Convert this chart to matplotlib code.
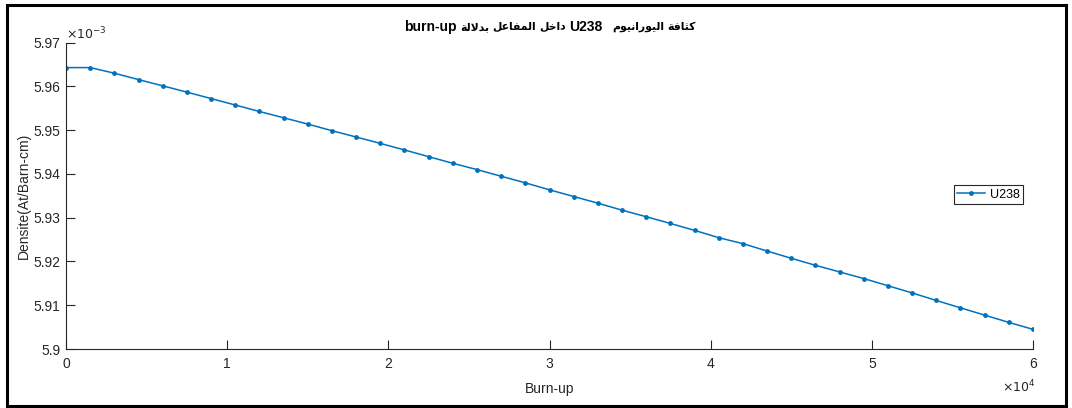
import matplotlib
matplotlib.use("Agg")
import matplotlib.pyplot as plt
from matplotlib.patches import Rectangle
from matplotlib.ticker import FixedLocator

# ---------------- data ----------------
burnup = [i * 1500 for i in range(41)]  # marker spacing read as 1500
density_e3 = [
    5.96431, 5.96431, 5.96303, 5.96157, 5.96014, 5.95870, 5.95724, 5.95576,
    5.95428, 5.95285, 5.95141, 5.94989, 5.94845, 5.94699, 5.94549, 5.94396,
    5.94244, 5.94100, 5.93948, 5.93797, 5.93638, 5.93485, 5.93333, 5.93173,
    5.93023, 5.92870, 5.92711, 5.92544, 5.92408, 5.92239, 5.92073, 5.91913,
    5.91761, 5.91610, 5.91446, 5.91282, 5.91109, 5.90941, 5.90774, 5.90608,
    5.90449,
]
density = [d * 1e-3 for d in density_e3]
x_ticks = [0, 10000, 20000, 30000, 40000, 50000, 60000]
x_tick_labels = ["0", "1", "2", "3", "4", "5", "6"]
y_ticks = [5.90e-3, 5.91e-3, 5.92e-3, 5.93e-3, 5.94e-3, 5.95e-3, 5.96e-3, 5.97e-3]
y_tick_labels = ["5.9", "5.91", "5.92", "5.93", "5.94", "5.95", "5.96", "5.97"]
series_name = "U238"
title_logical = "كثافة اليورانيوم  U238 داخل المفاعل بدلالة burn-up"
x_label = "Burn-up"
y_label = "Densite(At/Barn-cm)"

# ---------------- minimal Arabic shaping (matplotlib has no shaper) ----------------
FORMS = {  # isolated, final, initial, medial
    "ا": ("\uFE8D", "\uFE8E", None, None),
    "ب": ("\uFE8F", "\uFE90", "\uFE91", "\uFE92"),
    "ة": ("\uFE93", "\uFE94", None, None),
    "ث": ("\uFE99", "\uFE9A", "\uFE9B", "\uFE9C"),
    "خ": ("\uFEA5", "\uFEA6", "\uFEA7", "\uFEA8"),
    "د": ("\uFEA9", "\uFEAA", None, None),
    "ر": ("\uFEAD", "\uFEAE", None, None),
    "ع": ("\uFEC9", "\uFECA", "\uFECB", "\uFECC"),
    "ف": ("\uFED1", "\uFED2", "\uFED3", "\uFED4"),
    "ك": ("\uFED9", "\uFEDA", "\uFEDB", "\uFEDC"),
    "ل": ("\uFEDD", "\uFEDE", "\uFEDF", "\uFEE0"),
    "م": ("\uFEE1", "\uFEE2", "\uFEE3", "\uFEE4"),
    "ن": ("\uFEE5", "\uFEE6", "\uFEE7", "\uFEE8"),
    "و": ("\uFEED", "\uFEEE", None, None),
    "ي": ("\uFEF1", "\uFEF2", "\uFEF3", "\uFEF4"),
}
LAMALEF = ("\uFEFB", "\uFEFC")


def shape_word(w):
    units = []
    i = 0
    while i < len(w):
        if w[i] == "ل" and i + 1 < len(w) and w[i + 1] == "ا":
            units.append("LA")
            i += 2
        else:
            units.append(w[i])
            i += 1

    def dual(u):
        return u in FORMS and FORMS[u][2] is not None

    out = []
    for k, u in enumerate(units):
        prev_join = k > 0 and dual(units[k - 1])
        if u == "LA":
            out.append(LAMALEF[1] if prev_join else LAMALEF[0])
            continue
        if u not in FORMS:
            out.append(u)
            continue
        next_join = dual(u) and k + 1 < len(units) and (units[k + 1] in FORMS or units[k + 1] == "LA")
        f = FORMS[u]
        if prev_join and next_join:
            out.append(f[3])
        elif prev_join:
            out.append(f[1])
        elif next_join:
            out.append(f[2])
        else:
            out.append(f[0])
    return "".join(out)


def is_arabic(w):
    return any("\u0600" <= c <= "\u06FF" for c in w)


def visual_runs(text):
    """Return visual-order list of (string, is_arabic) runs."""
    parts = text.split(" ")
    runs = []
    for p in parts[::-1]:
        if p == "":
            runs.append(("", False))
        elif is_arabic(p):
            runs.append((shape_word(p)[::-1], True))
        else:
            runs.append((p, False))
    return runs


# ---------------- figure ----------------
W, H = 1072, 408
fig = plt.figure(figsize=(W / 100, H / 100), dpi=100)
fig.patch.set_facecolor("white")
ax = fig.add_axes([66 / W, 1 - 349 / H, (1033 - 66) / W, (349 - 42.7) / H])

grey = "#262626"
ax.plot(burnup, density, color="#0072BD", linewidth=1.1, marker="o", markersize=3.5,
        markeredgewidth=0, label=series_name)

ax.set_xlim(0, 60000)
ax.set_ylim(5.90e-3, 5.97e-3)
ax.xaxis.set_major_locator(FixedLocator(x_ticks))
ax.yaxis.set_major_locator(FixedLocator(y_ticks))
ax.set_xticklabels(x_tick_labels)
ax.set_yticklabels(y_tick_labels)

for s in ("top", "right"):
    ax.spines[s].set_visible(False)
for s in ("left", "bottom"):
    ax.spines[s].set_color(grey)
    ax.spines[s].set_linewidth(0.8)

font = ["Liberation Sans", "DejaVu Sans"]
ax.tick_params(direction="in", length=6.5, width=0.8, color=grey, labelcolor=grey,
               labelsize=10)
ax.tick_params(axis="x", pad=6)
ax.tick_params(axis="y", pad=4)
for lab in ax.get_xticklabels() + ax.get_yticklabels():
    lab.set_family(font)

ax.set_xlabel(x_label, fontsize=10, color=grey, family=font, labelpad=8)
ax.set_ylabel(y_label, fontsize=10, color=grey, family=font, labelpad=2)

fig.text(66 / W, 1 - 34 / H, r"$\times10^{-3}$", fontsize=9, color=grey,
         ha="left", va="center", family=font)
fig.text(1035 / W, 1 - 387 / H, r"$\times10^{4}$", fontsize=9, color=grey,
         ha="right", va="center", family=font)

# ---- title: laid out run by run (Latin bold 10pt, Arabic bold 7.8pt) ----
renderer = fig.canvas.get_renderer()
runs = visual_runs(title_logical)
space_px = 3.2
pieces = []
for s, ar in runs:
    if s == "":
        pieces.append((None, space_px))
        continue
    t = fig.text(0, 1 - 27 / H, s, fontsize=7.8 if ar else 10, fontweight="bold",
                 color="black", ha="left", va="center", family=font)
    w = t.get_window_extent(renderer).width
    pieces.append((t, w))
total = sum(w for _, w in pieces) + space_px * (len(pieces) - 1)
xcur = 550 - total / 2
for t, w in pieces:
    if t is not None:
        t.set_x(xcur / W)
    xcur += w + space_px

leg = ax.legend(loc="center", bbox_to_anchor=(988.5 / W, 1 - 194.5 / H),
                bbox_transform=fig.transFigure, fancybox=False, framealpha=1,
                edgecolor=grey, handlelength=2.2, borderpad=0.3,
                handletextpad=0.4, prop={"family": font, "size": 9})
leg.get_frame().set_linewidth(0.8)

fig.patches.append(Rectangle((7 / W, 1 - 406 / H), (1066 - 7) / W, (406 - 5) / H,
                             transform=fig.transFigure, fill=False, edgecolor="black",
                             linewidth=2.2))

fig.savefig("out.png", dpi=100)
